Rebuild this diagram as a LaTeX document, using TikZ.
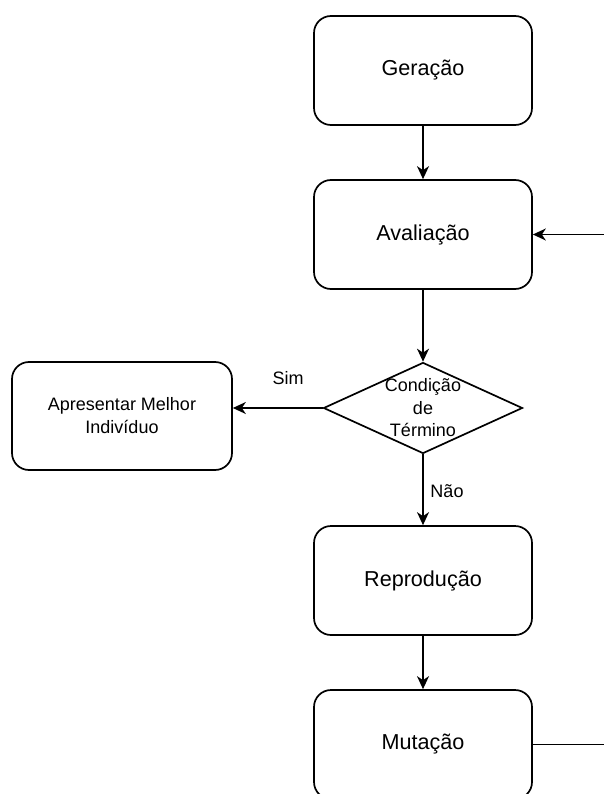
\documentclass[tikz,border=0pt]{standalone}
\usepackage{fontspec}
\setmainfont{Liberation Sans}
\usetikzlibrary{positioning,shapes.geometric,arrows.meta}

\begin{document}
\begin{tikzpicture}[x=1pt,y=-1pt,line width=1.7pt,
        >={Stealth[length=13pt,width=12pt,inset=4pt]},
        etapa/.style={draw,rectangle,rounded corners=17pt,minimum width=218pt,minimum height=109pt,font=\fontsize{21.6}{26}\selectfont},
        fim/.style={draw,rectangle,rounded corners=17pt,minimum width=220pt,minimum height=108pt,align=center,font=\fontsize{18}{23}\selectfont},
        decisao/.style={draw,diamond,inner sep=0pt,minimum width=199pt,minimum height=91pt},
        rotulo/.style={align=center,font=\fontsize{18}{22.5}\selectfont}]
        \useasboundingbox (0,0) rectangle (604,794);
        \node[etapa] (gen) at (423,70.5) {Geração};
        \node[etapa] (aval) at (423,234.5) {Avaliação};
        \node[decisao] (cond) at (423,408) {};
        \node[rotulo] (condtxt) at (423,408) {Condição\\de\\Término};
        \node[fim] (best) at (122,416) {Apresentar Melhor\\Indivíduo};
        \node[etapa] (rep) at (423,580.5) {Reprodução};
        \node[etapa] (mut) at (423,744.5) {Mutação};
        \node[rotulo] (sim) at (288,378) {Sim};
        \node[rotulo] (nao) at (447,491) {Não};
        \coordinate (mutR) at (604,744.5);
        \coordinate (avalR) at (604,234.5);
        \draw[->] (gen) -- (aval);
        \draw[->] (aval) -- (cond);
        \draw[->] (cond.west) -- (cond.west -| best.east);
        \draw[->] (cond) -- (rep);
        \draw[->] (rep) -- (mut);
        \draw (mut) -- (mutR);
        \draw[->] (avalR) -- (aval);
\end{tikzpicture}
\end{document}
